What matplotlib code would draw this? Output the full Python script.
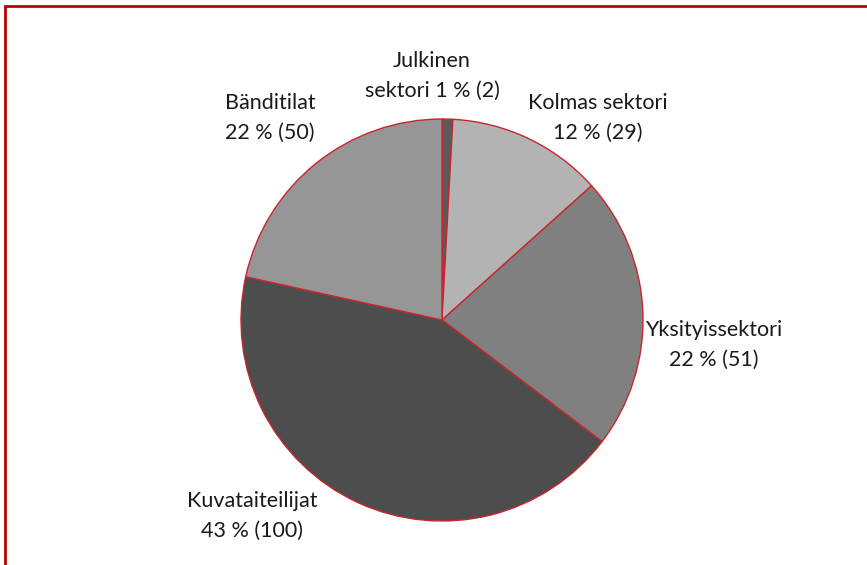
import matplotlib.pyplot as plt
from matplotlib.patches import Rectangle

categories = ['Julkinen\nsektori', 'Kolmas sektori', 'Yksityissektori', 'Kuvataiteilijat', 'Bänditilat']
values = [2, 29, 51, 100, 50]
percents = [1, 12, 22, 43, 22]
colors = ['#5a5a5a', '#b3b3b3', '#808080', '#4d4d4d', '#969696']

plt.rcParams['font.family'] = ['Lato', 'DejaVu Sans']

fig = plt.figure(figsize=(8.67, 5.65), dpi=100)
W, H = 867, 565
cx, cy, r = 442, 320, 201
ax = fig.add_axes([(cx - r) / W, (H - cy - r) / H, 2 * r / W, 2 * r / H])
ax.pie(values, colors=colors, startangle=90, counterclock=False, radius=1,
       wedgeprops=dict(edgecolor='#c8252c', linewidth=1))
ax.set_xlim(-1, 1)
ax.set_ylim(-1, 1)
ax.set_aspect('equal')
ax.axis('off')

# label centres in pixel coords
label_px = [(432, 76), (598, 118), (714, 345), (252, 516), (270, 118)]
for cat, v, p, (px, py) in zip(categories, values, percents, label_px):
    if cat.startswith('Julkinen'):
        txt = 'Julkinen\nsektori %d %% (%d)' % (p, v)
    else:
        txt = '%s\n%d %% (%d)' % (cat, p, v)
    ax.text((px - cx) / r, (cy - py) / r, txt, ha='center', va='center',
            fontsize=15.5, color='#1a1a1a', linespacing=1.6, clip_on=False)

fig.patches.append(Rectangle((5 / W, -0.1), 1.2, 1 - 6 / H + 0.1, transform=fig.transFigure,
                             fill=False, edgecolor='#c00000', linewidth=2))

fig.savefig('out.png', dpi=100)
